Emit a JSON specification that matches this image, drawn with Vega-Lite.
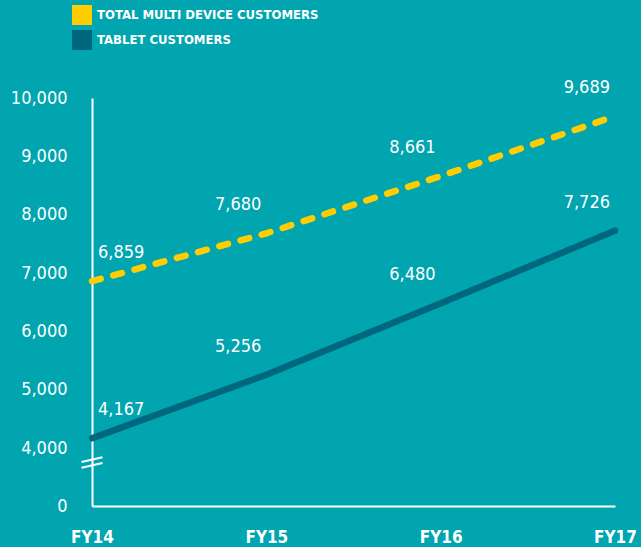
{
  "$schema": "https://vega.github.io/schema/vega-lite/v6.json",
  "width": 523,
  "height": 408,
  "autosize": {"type": "none"},
  "padding": {"left": 92, "top": 98, "right": 26, "bottom": 41},
  "background": "#00A5AF",
  "config": {"view": {"stroke": null}, "font": "'DejaVu Sans Condensed', Roboto, sans-serif"},
  "datasets": {
    "customers": [
      {"fy": "FY14", "series": "TOTAL MULTI DEVICE CUSTOMERS", "customers": 6859},
      {"fy": "FY15", "series": "TOTAL MULTI DEVICE CUSTOMERS", "customers": 7680},
      {"fy": "FY16", "series": "TOTAL MULTI DEVICE CUSTOMERS", "customers": 8661},
      {"fy": "FY17", "series": "TOTAL MULTI DEVICE CUSTOMERS", "customers": 9689},
      {"fy": "FY14", "series": "TABLET CUSTOMERS", "customers": 4167},
      {"fy": "FY15", "series": "TABLET CUSTOMERS", "customers": 5256},
      {"fy": "FY16", "series": "TABLET CUSTOMERS", "customers": 6480},
      {"fy": "FY17", "series": "TABLET CUSTOMERS", "customers": 7726}
    ],
    "axisbreak": [{"fy": "FY14", "customers": 3000}]
  },
  "layer": [
    {
      "data": {"name": "customers"},
      "mark": {"type": "line", "strokeCap": "round", "strokeWidth": 6.5},
      "encoding": {
        "x": {
          "field": "fy", "type": "ordinal",
          "scale": {"type": "point", "padding": 0},
          "axis": {"title": null, "labelAngle": 0, "domainColor": "white", "domainWidth": 2, "ticks": false, "grid": false,
                   "labelColor": "white", "labelFontSize": 17, "labelFontWeight": "bold", "labelPadding": 23}
        },
        "y": {
          "field": "customers", "type": "quantitative",
          "scale": {"domain": [0, 4000, 10000], "range": [408, 350, 0], "nice": false, "zero": false},
          "axis": {"title": null, "values": [0, 4000, 5000, 6000, 7000, 8000, 9000, 10000], "labelExpr": "format(datum.value, ',')",
                   "domainColor": "white", "domainWidth": 2, "ticks": false, "grid": false,
                   "labelColor": "white", "labelFontSize": 18, "labelFontWeight": 500, "labelPadding": 25}
        },
        "color": {
          "field": "series", "type": "nominal",
          "scale": {"domain": ["TOTAL MULTI DEVICE CUSTOMERS", "TABLET CUSTOMERS"], "range": ["#FFCD00", "#00677F"]},
          "legend": {
            "title": null, "orient": "none", "legendX": -20, "legendY": -93, "padding": 0,
            "symbolType": "square", "symbolSize": 400, "symbolStrokeWidth": 0, "symbolDash": [],
            "rowPadding": 5, "labelOffset": 5, "labelLimit": 400,
            "labelColor": "white", "labelFontSize": 13, "labelFontWeight": "bold",
            "encode": {"symbols": {"update": {"fill": {"scale": "color", "field": "value"}, "fillOpacity": {"value": 1}, "stroke": {"value": "transparent"}, "strokeWidth": {"value": 0}}}}
          }
        },
        "strokeDash": {
          "field": "series", "type": "nominal",
          "scale": {"domain": ["TOTAL MULTI DEVICE CUSTOMERS", "TABLET CUSTOMERS"], "range": [[9, 13], [1, 0]]},
          "legend": null
        }
      }
    },
    {
      "data": {"name": "customers"},
      "transform": [{"filter": "datum.fy === 'FY14'"}],
      "mark": {"type": "text", "align": "left", "dx": 6, "dy": -28, "fontSize": 18, "fontWeight": 500, "color": "white"},
      "encoding": {
        "x": {"field": "fy", "type": "ordinal"},
        "y": {"field": "customers", "type": "quantitative"},
        "text": {"field": "customers", "type": "quantitative", "format": ","}
      }
    },
    {
      "data": {"name": "customers"},
      "transform": [{"filter": "datum.fy !== 'FY14'"}],
      "mark": {"type": "text", "align": "right", "dx": -5, "dy": -28, "fontSize": 18, "fontWeight": 500, "color": "white"},
      "encoding": {
        "x": {"field": "fy", "type": "ordinal"},
        "y": {"field": "customers", "type": "quantitative"},
        "text": {"field": "customers", "type": "quantitative", "format": ","}
      }
    },
    {
      "data": {"name": "axisbreak"},
      "mark": {"type": "point", "shape": "M-1,-0.05L1,-0.5M-1,0.5L1,0.05", "size": 441, "filled": false, "stroke": "white", "strokeWidth": 2, "opacity": 1},
      "encoding": {
        "x": {"field": "fy", "type": "ordinal"},
        "y": {"field": "customers", "type": "quantitative"}
      }
    }
  ]
}
